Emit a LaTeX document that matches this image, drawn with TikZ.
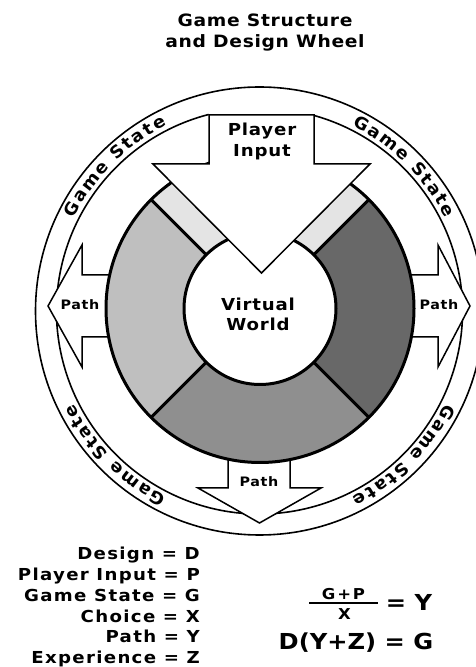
\documentclass[tikz,border=0pt]{standalone}
\usepackage{fontspec}
\usetikzlibrary{decorations.text,calc}
\setmainfont{DejaVu Sans}
\newfontfamily\fTitle{DejaVu Sans}[FakeStretch=1.1,LetterSpace=4]
\newfontfamily\fLab{DejaVu Sans}[FakeStretch=1.1,LetterSpace=5]
\newfontfamily\fLeg{DejaVu Sans}[FakeStretch=1.1,LetterSpace=8]
\newfontfamily\fEq{DejaVu Sans}[FakeStretch=1.1]
\newfontfamily\fFrac{DejaVu Sans}[FakeStretch=1.1,LetterSpace=12]
\newfontfamily\fArc{DejaVu Sans}[FakeStretch=1.05]
\newcommand{\gsfont}{\fArc\bfseries\fontsize{17}{17}\selectfont}
\definecolor{segL}{RGB}{191,191,191}
\definecolor{segB}{RGB}{143,143,143}
\definecolor{segR}{RGB}{104,104,104}
\definecolor{segT}{RGB}{228,228,228}
\tikzset{
  bigarrow/.style={draw=black,fill=white,line width=1.5pt,line join=miter},
  ringline/.style={line width=3pt},
  bandline/.style={line width=1.6pt},
  titletext/.style={font=\fTitle\bfseries\fontsize{17}{17}\selectfont,anchor=base,inner sep=0pt},
  labeltext/.style={font=\fLab\bfseries\fontsize{16.5}{16.5}\selectfont,anchor=base,inner sep=0pt},
  pathtext/.style={font=\fLab\bfseries\fontsize{13}{13}\selectfont,anchor=base,inner sep=0pt},
  legtext/.style={font=\fLeg\bfseries\fontsize{16.5}{16.5}\selectfont,anchor=base east,inner sep=0pt},
  eqtext/.style={font=\fEq\bfseries\fontsize{22}{22}\selectfont,anchor=base,inner sep=0pt},
  fractext/.style={font=\fFrac\bfseries\fontsize{15}{15}\selectfont,anchor=base,inner sep=0pt},
}
\begin{document}
\begin{tikzpicture}[x=1pt,y=1pt]
\useasboundingbox (0,0) rectangle (475,667);
\coordinate (B) at (259.5,356);
\coordinate (W) at (260,358.5);

% outer band
\begin{scope}[shift={(B)}]
  \draw[bandline] (0,0) circle[radius=224];
  \draw[bandline] (104.5:203) arc[start angle=104.5,end angle=434.5,radius=203];
  \foreach \c in {135,45,225,315}{
    \path[decorate,decoration={text along path,text={|\gsfont|Game State},text align={fit to path}}]
      (\c+18.5:207.5) arc[start angle=\c+18.5,end angle=\c-18.5,radius=207.5];
  }
\end{scope}

% path arrows
\draw[bigarrow] (130,392) -- (82,392) -- (82,422) -- (48,361) -- (82,300) -- (82,330) -- (130,330) -- cycle;
\draw[bigarrow] (390,392) -- (438,392) -- (438,422) -- (470,361) -- (438,300) -- (438,330) -- (390,330) -- cycle;
\draw[bigarrow] (228,240) -- (228,179) -- (198,179) -- (259.5,144) -- (321,179) -- (290,179) -- (290,240) -- cycle;

% ring
\begin{scope}[shift={(W)}]
  \fill[segL] (135:154) arc[start angle=135,end angle=225,radius=154] -- (225:76) arc[start angle=225,end angle=135,radius=76] -- cycle;
  \fill[segB] (225:154) arc[start angle=225,end angle=315,radius=154] -- (315:76) arc[start angle=315,end angle=225,radius=76] -- cycle;
  \fill[segR] (315:154) arc[start angle=315,end angle=405,radius=154] -- (45:76) arc[start angle=405,end angle=315,radius=76] -- cycle;
  \fill[segT] (45:154) arc[start angle=45,end angle=135,radius=154] -- (135:76) arc[start angle=135,end angle=45,radius=76] -- cycle;
  \draw[ringline] (0,0) circle[radius=154];
  \foreach \a in {45,135,225,315} \draw[ringline] (\a:76) -- (\a:154);
  \filldraw[ringline,fill=white] (0,0) circle[radius=76];
\end{scope}

% player input arrow
\draw[bigarrow] (209,552) -- (314,552) -- (314,503) -- (370,503) -- (261.5,394) -- (153,503) -- (209,503) -- cycle;

% labels
\node[titletext] (title1) at (265,640) {Game Structure};
\node[titletext] (title2) at (265,619) {and Design Wheel};
\node[labeltext] (pi1) at (262,531) {Player};
\node[labeltext] (pi2) at (262,510) {Input};
\node[labeltext] (vw1) at (258,356) {Virtual};
\node[labeltext] (vw2) at (258,336) {World};
\node[pathtext] (pathL) at (80,357) {Path};
\node[pathtext] (pathR) at (439,357) {Path};
\node[pathtext] (pathB) at (259,180) {Path};

% legend
\node[legtext] (lg1) at (200,107) {Design = D};
\node[legtext] (lg2) at (200,86) {Player Input = P};
\node[legtext] (lg3) at (200,65) {Game State = G};
\node[legtext] (lg4) at (200,44) {Choice = X};
\node[legtext] (lg5) at (200,24) {Path = Y};
\node[legtext] (lg6) at (200,3.5) {Experience = Z};

% equations
\node[fractext] (num) at (343.5,67) {G+P};
\draw[line width=2pt] (309,64) -- (378,64);
\node[fractext] (den) at (344.5,47) {X};
\node[eqtext] (eqY) at (409,56) {= Y};
\node[eqtext] (eq2) at (356,17) {D(Y+Z) = G};
\end{tikzpicture}
\end{document}
